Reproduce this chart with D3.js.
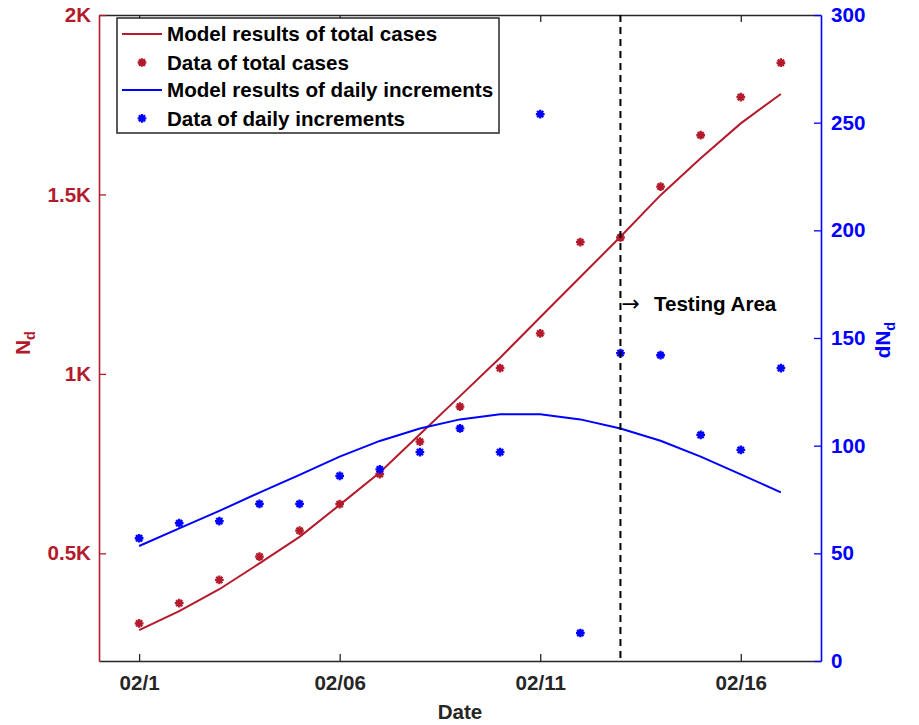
<!DOCTYPE html>
<html>
<head>
<meta charset="utf-8">
<script src="https://cdn.jsdelivr.net/npm/d3@7"></script>
<style>
  html, body { margin: 0; padding: 0; background: #fff; }
  svg { display: block; font-family: "Liberation Sans", Arial, Helvetica, sans-serif; }
</style>
</head>
<body>
<svg id="chart" width="919" height="725"></svg>
<script>
// ---------------- data ----------------
const days = [1, 2, 3, 4, 5, 6, 7, 8, 9, 10, 11, 12, 13, 14, 15, 16, 17];
const totalData  = [305, 361, 426, 491, 563, 637, 721, 811, 909, 1016, 1113, 1367, 1380, 1522, 1665, 1771, 1867];
const totalModel = [286, 339, 400, 472, 546, 635, 725, 832, 938, 1045, 1158, 1270, 1382, 1498, 1601, 1698, 1780];
const dailyData  = [57, 64, 65, 73, 73, 86, 89, 97, 108, 97, 254, 13, 143, 142, 105, 98, 136];
const dailyModel = [53.4, 61.6, 69.7, 78.2, 86.4, 94.9, 102.2, 108, 112.2, 114.6, 114.6, 112.2, 108, 102.3, 94.9, 86.7, 78.3];
const xTickDays   = [1, 6, 11, 16];
const xTickLabels = ["02/1", "02/06", "02/11", "02/16"];
const leftTicks   = [500, 1000, 1500, 2000];
const leftTickLabels = ["0.5K", "1K", "1.5K", "2K"];
const rightTicks  = [0, 50, 100, 150, 200, 250, 300];
const testingDay  = 13;
const legendLabels = ["Model results of total cases", "Data of total cases",
                      "Model results of daily increments", "Data of daily increments"];

// ---------------- layout ----------------
const RED = "#b31b2c", BLUE = "#0000ff", GRAY = "#262626";
const L = 99, R = 821, T = 15, B = 661;
const svg = d3.select("#chart");

const x  = d3.scaleLinear().domain([0, 18]).range([L, R]);
const yL = d3.scaleLinear().domain([200, 2000]).range([B, T]);
const yR = d3.scaleLinear().domain([0, 300]).range([B, T]);

const font = "20.6px";

// custom 8-armed asterisk (MATLAB '*' marker)
const asterisk8 = {
  draw(ctx, size) {
    const r = Math.sqrt(size) / 2, d = r * Math.SQRT1_2;
    ctx.moveTo(-r, 0); ctx.lineTo(r, 0);
    ctx.moveTo(0, -r); ctx.lineTo(0, r);
    ctx.moveTo(-d, -d); ctx.lineTo(d, d);
    ctx.moveTo(-d, d); ctx.lineTo(d, -d);
  }
};
const star = d3.symbol().type(asterisk8).size(76);

// ---------------- axes ----------------
const xAxis = d3.axisBottom(x).tickValues(xTickDays).tickFormat((d, i) => xTickLabels[i])
  .tickSizeInner(-7).tickSizeOuter(0).tickPadding(14);
const gx = svg.append("g").attr("transform", `translate(0,${B})`).call(xAxis);
gx.select(".domain").attr("stroke", GRAY).attr("stroke-width", 1.6);
gx.selectAll(".tick line").attr("stroke", GRAY).attr("stroke-width", 1.3);
gx.selectAll(".tick text").attr("fill", GRAY).attr("font-size", font).attr("font-weight", "bold")
  .attr("font-family", "Liberation Sans, Arial, sans-serif");

const xTop = d3.axisTop(x).tickValues(xTickDays).tickFormat("").tickSizeInner(-7).tickSizeOuter(0);
const gt = svg.append("g").attr("transform", `translate(0,${T})`).call(xTop);
gt.select(".domain").attr("stroke", GRAY).attr("stroke-width", 1.6);
gt.selectAll(".tick line").attr("stroke", GRAY).attr("stroke-width", 1.3);

const yLAxis = d3.axisLeft(yL).tickValues(leftTicks).tickFormat((d, i) => leftTickLabels[i])
  .tickSizeInner(-7).tickSizeOuter(0).tickPadding(8);
const gl = svg.append("g").attr("transform", `translate(${L},0)`).call(yLAxis);
gl.select(".domain").attr("stroke", RED).attr("stroke-width", 1.6);
gl.selectAll(".tick line").attr("stroke", RED).attr("stroke-width", 1.3);
gl.selectAll(".tick text").attr("fill", RED).attr("font-size", font).attr("font-weight", "bold")
  .attr("font-family", "Liberation Sans, Arial, sans-serif");

const yRAxis = d3.axisRight(yR).tickValues(rightTicks)
  .tickSizeInner(-7).tickSizeOuter(0).tickPadding(10);
const gr = svg.append("g").attr("transform", `translate(${R},0)`).call(yRAxis);
gr.select(".domain").attr("stroke", BLUE).attr("stroke-width", 1.6);
gr.selectAll(".tick line").attr("stroke", BLUE).attr("stroke-width", 1.3);
gr.selectAll(".tick text").attr("fill", BLUE).attr("font-size", font).attr("font-weight", "bold")
  .attr("font-family", "Liberation Sans, Arial, sans-serif");

// axis labels
svg.append("text").attr("x", (L + R) / 2).attr("y", 719).attr("text-anchor", "middle")
  .attr("font-size", font).attr("font-weight", "bold").attr("fill", GRAY).text("Date");

const nl = svg.append("text").attr("transform", `translate(30,${(T + B) / 2 + 5}) rotate(-90)`)
  .attr("text-anchor", "middle").attr("font-size", font).attr("font-weight", "bold").attr("fill", RED);
nl.append("tspan").text("N");
nl.append("tspan").attr("dy", 5).attr("font-size", "14.5px").text("d");

const nr = svg.append("text").attr("transform", `translate(890,${(T + B) / 2 + 2}) rotate(-90)`)
  .attr("text-anchor", "middle").attr("font-size", font).attr("font-weight", "bold").attr("fill", BLUE);
nr.append("tspan").text("dN");
nr.append("tspan").attr("dy", 5).attr("font-size", "14.5px").text("d");

// ---------------- marks ----------------
const lineL = d3.line().x((d, i) => x(days[i])).y(d => yL(d));
const lineR = d3.line().x((d, i) => x(days[i])).y(d => yR(d));

svg.append("path").datum(totalModel).attr("d", lineL).attr("fill", "none")
  .attr("stroke", RED).attr("stroke-width", 2);
svg.append("g").selectAll("path").data(totalData).join("path")
  .attr("transform", (d, i) => `translate(${x(days[i])},${yL(d)})`)
  .attr("d", star).attr("fill", "none").attr("stroke", RED).attr("stroke-width", 2.3);

svg.append("path").datum(dailyModel).attr("d", lineR).attr("fill", "none")
  .attr("stroke", BLUE).attr("stroke-width", 2);
svg.append("g").selectAll("path").data(dailyData).join("path")
  .attr("transform", (d, i) => `translate(${x(days[i])},${yR(d)})`)
  .attr("d", star).attr("fill", "none").attr("stroke", BLUE).attr("stroke-width", 2.3);

// testing boundary
svg.append("line").attr("x1", x(testingDay)).attr("x2", x(testingDay)).attr("y1", T).attr("y2", B)
  .attr("stroke", "#000").attr("stroke-width", 2).attr("stroke-dasharray", "7,5");

const ta = svg.append("text").attr("x", x(testingDay) + 1).attr("y", 311)
  .attr("font-size", font).attr("fill", "#000");
ta.append("tspan").attr("font-family", "DejaVu Sans, sans-serif").attr("font-weight", "normal")
  .attr("font-size", "22px").text("→");
ta.append("tspan").attr("dx", 14).attr("font-weight", "bold").text("Testing Area");

// ---------------- legend ----------------
const lg = svg.append("g");
lg.append("rect").attr("x", 117).attr("y", 18).attr("width", 382).attr("height", 115)
  .attr("fill", "#fff").attr("stroke", GRAY).attr("stroke-width", 1.5);
const rowsY = [34, 62.5, 90, 118.3];
const legendKinds = [["line", RED], ["star", RED], ["line", BLUE], ["star", BLUE]];
legendKinds.forEach(([kind, col], i) => {
  const yy = rowsY[i];
  if (kind === "line") {
    lg.append("line").attr("x1", 122).attr("x2", 162).attr("y1", yy).attr("y2", yy)
      .attr("stroke", col).attr("stroke-width", 2);
  } else {
    lg.append("path").attr("transform", `translate(142,${yy})`).attr("d", star)
      .attr("fill", "none").attr("stroke", col).attr("stroke-width", 2.3);
  }
  lg.append("text").attr("x", 167).attr("y", yy).attr("dy", "0.35em")
    .attr("font-size", font).attr("font-weight", "bold").attr("fill", "#000").text(legendLabels[i]);
});
</script>
</body>
</html>
